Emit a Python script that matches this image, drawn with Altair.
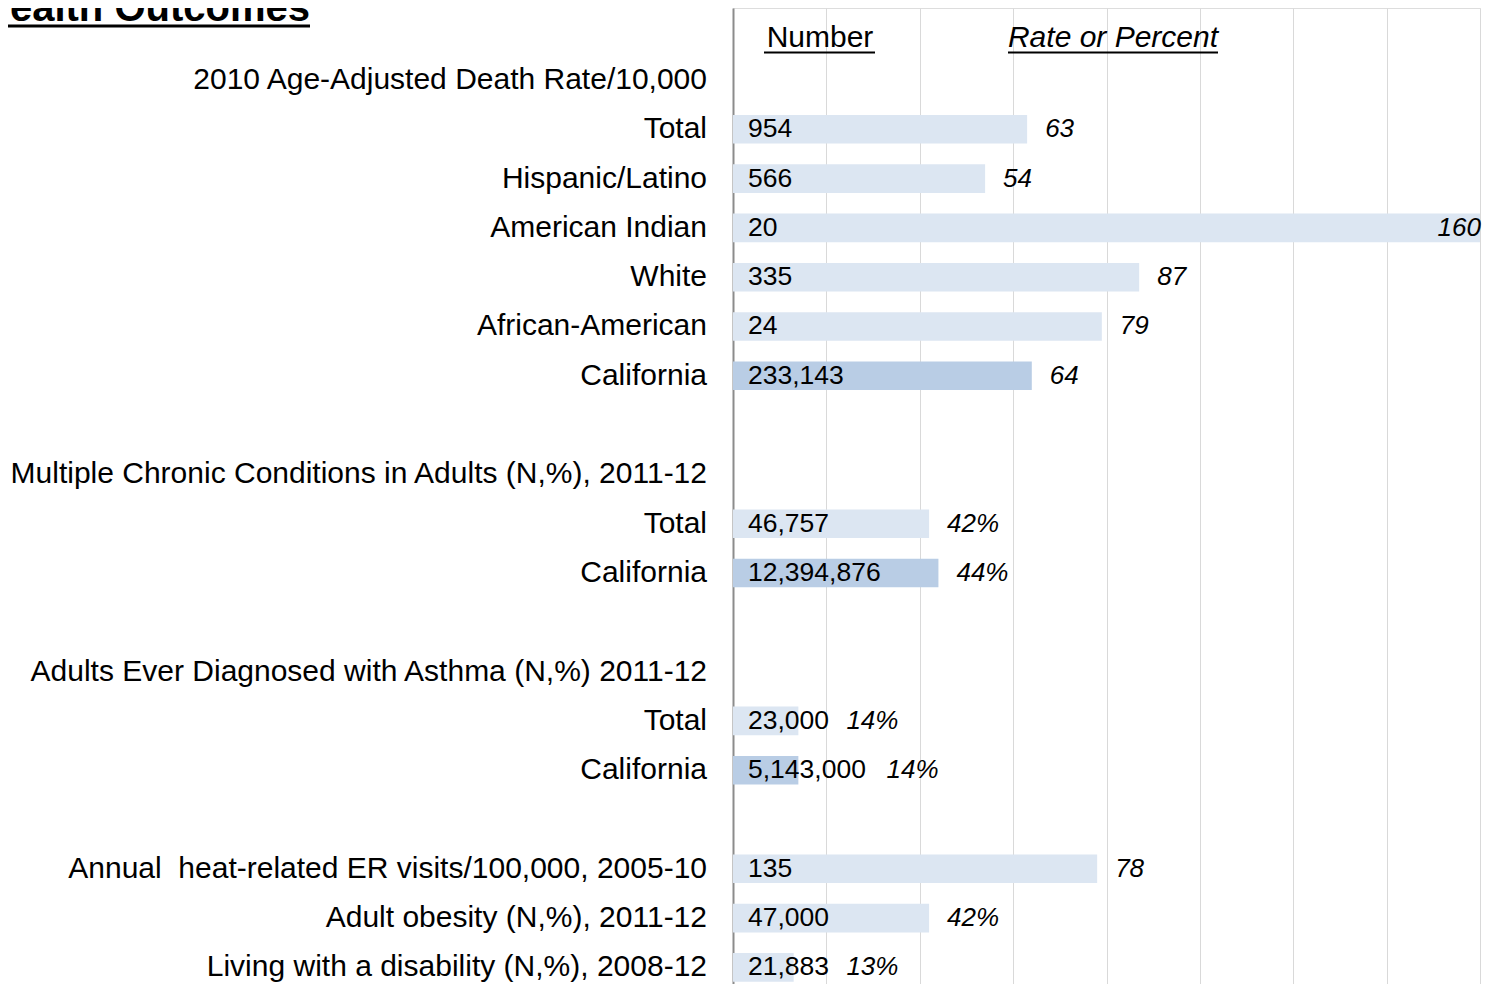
import altair as alt
import pandas as pd

labels = [
    "2010 Age-Adjusted Death Rate/10,000", "Total", "Hispanic/Latino", "American Indian",
    "White", "African-American", "California", "",
    "Multiple Chronic Conditions in Adults (N,%), 2011-12", "Total", "California", "",
    "Adults Ever Diagnosed with Asthma (N,%) 2011-12", "Total", "California", "",
    "Annual\u00a0 heat-related ER visits/100,000, 2005-10", "Adult obesity (N,%), 2011-12",
    "Living with a disability (N,%), 2008-12",
]
numbers = ["", "954", "566", "20", "335", "24", "233,143", "",
           "", "46,757", "12,394,876", "",
           "", "23,000", "5,143,000", "",
           "135", "47,000", "21,883"]
rates = [None, 63, 54, 160, 87, 79, 64, None,
         None, 42, 44, None,
         None, 14, 14, None,
         78, 42, 13]
rate_labels = ["", "63", "54", "160", "87", "79", "64", "",
               "", "42%", "44%", "",
               "", "14%", "14%", "",
               "78", "42%", "13%"]
groups = ["", "county", "county", "county", "county", "county", "state", "",
          "", "county", "state", "",
          "", "county", "state", "",
          "county", "county", "county"]

df = pd.DataFrame({
    "row": list(range(len(labels))),
    "label": labels,
    "num": numbers,
    "rate": rates,
    "rlab": rate_labels,
    "grp": groups,
})

FONT = "Liberation Sans"
xscale = alt.Scale(domain=[0, 160], nice=False, zero=True)
yscale = alt.Scale(domain=[-1.4604, 18.337], reverse=True, nice=False, zero=False)

base = alt.Chart(df)

bars = base.transform_filter("datum.rate != null").transform_calculate(
    y0="datum.row - 0.29", y1="datum.row + 0.29"
).mark_rect().encode(
    x=alt.X("rate:Q", scale=xscale,
            axis=alt.Axis(orient="top", values=[0, 20, 40, 60, 80, 100, 120, 140, 160],
                          grid=True, gridColor="#d9d9d9", gridWidth=1,
                          labels=False, ticks=False, domain=False, title=None)),
    x2=alt.datum(0),
    y=alt.Y("y0:Q", scale=yscale,
            axis=alt.Axis(labels=False, ticks=False, grid=False, domain=True,
                          domainColor="#8c8c8c", domainWidth=2, title=None)),
    y2="y1:Q",
    color=alt.Color("grp:N", scale=alt.Scale(domain=["county", "state"],
                                             range=["#dce6f2", "#b9cde5"]), legend=None),
)

cat_text = base.mark_text(align="right", baseline="middle", dx=-26, font=FONT,
                          fontSize=30, color="black").encode(
    x=alt.value(0),
    y=alt.Y("row:Q", scale=yscale),
    text="label:N",
)

num_text = base.mark_text(align="left", baseline="middle", font=FONT,
                          fontSize=26.5, color="black").encode(
    x=alt.value(15),
    y=alt.Y("row:Q", scale=yscale),
    text="num:N",
)

rate_text = base.transform_filter("datum.rate != null && datum.rate < 150").transform_calculate(
    lx="max(datum.rate, (15 + 13.4*length(datum.num))/4.669)"
).mark_text(align="left", baseline="middle", dx=18, font=FONT, fontSize=26,
            fontStyle="italic", color="black").encode(
    x=alt.X("lx:Q", scale=xscale),
    y=alt.Y("row:Q", scale=yscale),
    text="rlab:N",
)

rate_text_big = base.transform_filter("datum.rate != null && datum.rate >= 150").mark_text(
    align="right", baseline="middle", dx=1, font=FONT, fontSize=26,
    fontStyle="italic", color="black").encode(
    x=alt.X("rate:Q", scale=xscale),
    y=alt.Y("row:Q", scale=yscale),
    text="rlab:N",
)

one = alt.Chart(pd.DataFrame({"a": [0]}))

hdr_num = one.mark_text(align="center", baseline="alphabetic", font=FONT, fontSize=30,
                        color="black", text="Number").encode(x=alt.value(87), y=alt.value(39))
hdr_rate = one.mark_text(align="center", baseline="alphabetic", font=FONT, fontSize=30,
                         fontStyle="italic", color="black",
                         text="Rate or Percent").encode(x=alt.value(380), y=alt.value(39))
ul_num = one.mark_rule(color="black", strokeWidth=2).encode(
    x=alt.value(31), x2=alt.value(142), y=alt.value(44.5))
ul_rate = one.mark_rule(color="black", strokeWidth=2).encode(
    x=alt.value(275), x2=alt.value(485), y=alt.value(44.5))

title_txt = one.mark_text(align="right", baseline="alphabetic", font=FONT, fontSize=40,
                          fontWeight="bold", color="black",
                          text="Health Outcomes").encode(x=alt.value(-423), y=alt.value(13))
title_ul = one.mark_rule(color="black", strokeWidth=3).encode(
    x=alt.value(-726), x2=alt.value(-423), y=alt.value(18))

chart = alt.layer(
    bars, cat_text, num_text, rate_text, rate_text_big,
    hdr_num, hdr_rate, ul_num, ul_rate, title_txt, title_ul,
).properties(
    width=747, height=976,
    autosize=alt.AutoSizeParams(type="none"),
    padding={"left": 725, "top": 0, "right": 3, "bottom": 0},
).configure_view(stroke=None).configure(background="white")

chart.save("out.html", embed_options={"renderer": "svg", "actions": False})
